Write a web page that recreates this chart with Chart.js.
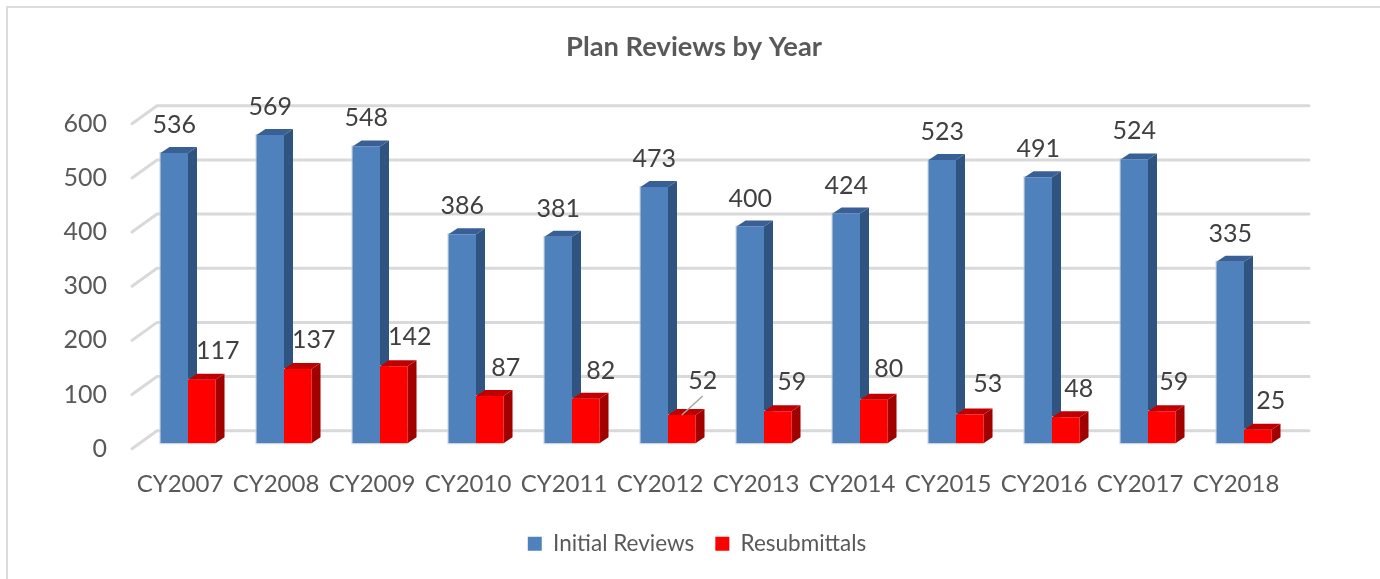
<!DOCTYPE html>
<html>
<head>
<meta charset="utf-8">
<style>
html, body { margin: 0; background: #fff; }
#wrap { width: 1380px; height: 579px; }
</style>
<script src="https://cdn.jsdelivr.net/npm/chart.js@4"></script>
</head>
<body>
<div id="wrap"><canvas id="mycanvas" width="1380" height="579"></canvas></div>
<script>
var years = ['CY2007','CY2008','CY2009','CY2010','CY2011','CY2012','CY2013','CY2014','CY2015','CY2016','CY2017','CY2018'];
var initialReviews = [536,569,548,386,381,473,400,424,523,491,524,335];
var resubmittals = [117,137,142,87,82,52,59,80,53,48,59,25];
var yTicks = [0,100,200,300,400,500,600];
// hand placement of the red labels, the original has them nudged about
var resubLabelDx = [16,16,16,16,15,21,14,15,18,13,12,13];
var resubLabelDy = [0,0,0,-1,-1,5,0,2,2,-1,0,0];

var FONT = 'Lato';
var DEPTH_X = 25, DEPTH_Y = 18;   // floor depth of the fake 3D box
var BAR_X = 8, BAR_Y = 5.5;       // bars stand partway back on the floor
var SIDE_X = 9, SIDE_Y = 6;       // depth of a bar

var sideColors = ['#2f5480', '#a00000'];
var topColors = ['#386096', '#c00000'];

function face(ctx, pts, color) {
  ctx.fillStyle = color;
  ctx.beginPath();
  ctx.moveTo(pts[0][0], pts[0][1]);
  for (var i = 1; i < pts.length; i++) ctx.lineTo(pts[i][0], pts[i][1]);
  ctx.closePath();
  ctx.fill();
}

var fake3d = {
  id: 'fake3d',
  afterLayout: function(chart) {
    // title and legend sit right of the plot's centre in the original
    chart.titleBlock.left += 44;
    chart.legend.left += 50;
  },
  beforeDraw: function(chart) {
    var ctx = chart.ctx, y = chart.scales.y, a = chart.chartArea;
    ctx.save();
    // only the top and left edges of the frame show in the original
    ctx.strokeStyle = '#dcdcdc';
    ctx.lineWidth = 2;
    ctx.beginPath();
    ctx.moveTo(7, 579);
    ctx.lineTo(7, 7);
    ctx.lineTo(1380, 7);
    ctx.stroke();
    ctx.lineCap = 'round';
    yTicks.forEach(function(t) {
      var py = y.getPixelForValue(t);
      ctx.strokeStyle = '#d9d9d9';
      ctx.lineWidth = 3;
      ctx.beginPath();
      ctx.moveTo(a.left, py);
      ctx.lineTo(a.left + DEPTH_X, py - DEPTH_Y);
      ctx.lineTo(a.right + DEPTH_X, py - DEPTH_Y);
      ctx.stroke();
    });
    ctx.restore();
  },
  beforeDatasetsDraw: function(chart) {
    var ctx = chart.ctx;
    ctx.save();
    ctx.translate(BAR_X, -BAR_Y);
    // chart.js paints the first dataset last, so all the sides go down first
    [0, 1].forEach(function(i) {
      chart.getDatasetMeta(i).data.forEach(function(bar) {
        var w = bar.width / 2, l = bar.x - w, r = bar.x + w, t = bar.y, b = bar.base;
        ctx.strokeStyle = '#d0d0d0';
        ctx.lineWidth = 1;
        ctx.strokeRect(l - 0.5, t - 0.5, r - l + 1, b - t + 1);
        face(ctx, [[r,t],[r+SIDE_X,t-SIDE_Y],[r+SIDE_X,b-SIDE_Y],[r,b]], sideColors[i]);
        face(ctx, [[l,t],[l+SIDE_X,t-SIDE_Y],[r+SIDE_X,t-SIDE_Y],[r,t]], topColors[i]);
      });
    });
  },
  afterDatasetsDraw: function(chart) {
    var ctx = chart.ctx;
    ctx.restore();
    ctx.save();
    ctx.font = '25px ' + FONT;
    ctx.fillStyle = '#404040';
    ctx.textAlign = 'center';
    ctx.textBaseline = 'middle';
    chart.getDatasetMeta(0).data.forEach(function(bar, k) {
      ctx.fillText(initialReviews[k], bar.x + BAR_X, bar.y - BAR_Y - 28);
    });
    chart.getDatasetMeta(1).data.forEach(function(bar, k) {
      var lx = bar.x + BAR_X + resubLabelDx[k], ly = bar.y - BAR_Y - 29 - resubLabelDy[k];
      if (resubLabelDy[k] >= 5) {
        // leader line on the one label pulled away from its bar
        ctx.strokeStyle = '#a6a6a6';
        ctx.lineWidth = 1.5;
        ctx.beginPath();
        ctx.moveTo(bar.x + BAR_X, bar.y - BAR_Y);
        ctx.lineTo(lx, ly + 15);
        ctx.stroke();
      }
      ctx.fillText(resubmittals[k], lx, ly);
    });
    ctx.restore();
  }
};

var chartdata = {
  labels: years,
  datasets: [
    { label: 'Initial Reviews', data: initialReviews, backgroundColor: '#4f81bd', borderWidth: 0, barPercentage: 1, categoryPercentage: 0.5735 },
    { label: 'Resubmittals', data: resubmittals, backgroundColor: '#ff0000', borderWidth: 0, barPercentage: 1, categoryPercentage: 0.5735 }
  ]
};

var ctx = document.getElementById('mycanvas');
var barGraph = new Chart(ctx, {
  type: 'bar',
  data: chartdata,
  plugins: [fake3d],
  options: {
    responsive: false,
    animation: false,
    layout: { padding: { left: 60, right: 96, top: 31, bottom: 14 } },
    plugins: {
      tooltip: { enabled: false },
      title: {
        display: true,
        text: 'Plan Reviews by Year',
        color: '#595959',
        font: { family: FONT, size: 27.3, weight: 'bold' },
        padding: { top: 0, bottom: 60 }
      },
      legend: {
        position: 'bottom',
        labels: {
          boxWidth: 14, boxHeight: 14, padding: 21,
          color: '#595959',
          font: { family: FONT, size: 22.5 }
        }
      }
    },
    scales: {
      x: {
        grid: { display: false },
        border: { display: false },
        ticks: { color: '#595959', font: { family: FONT, size: 24 }, maxRotation: 0, autoSkip: false, padding: 13 }
      },
      y: {
        min: 0, max: 600,
        grid: { display: false, drawTicks: false },
        border: { display: false },
        afterFit: function(s) { s.width = 72; },
        ticks: { stepSize: 100, color: '#595959', font: { family: FONT, size: 25 }, padding: 25 }
      }
    }
  }
});
</script>
</body>
</html>
